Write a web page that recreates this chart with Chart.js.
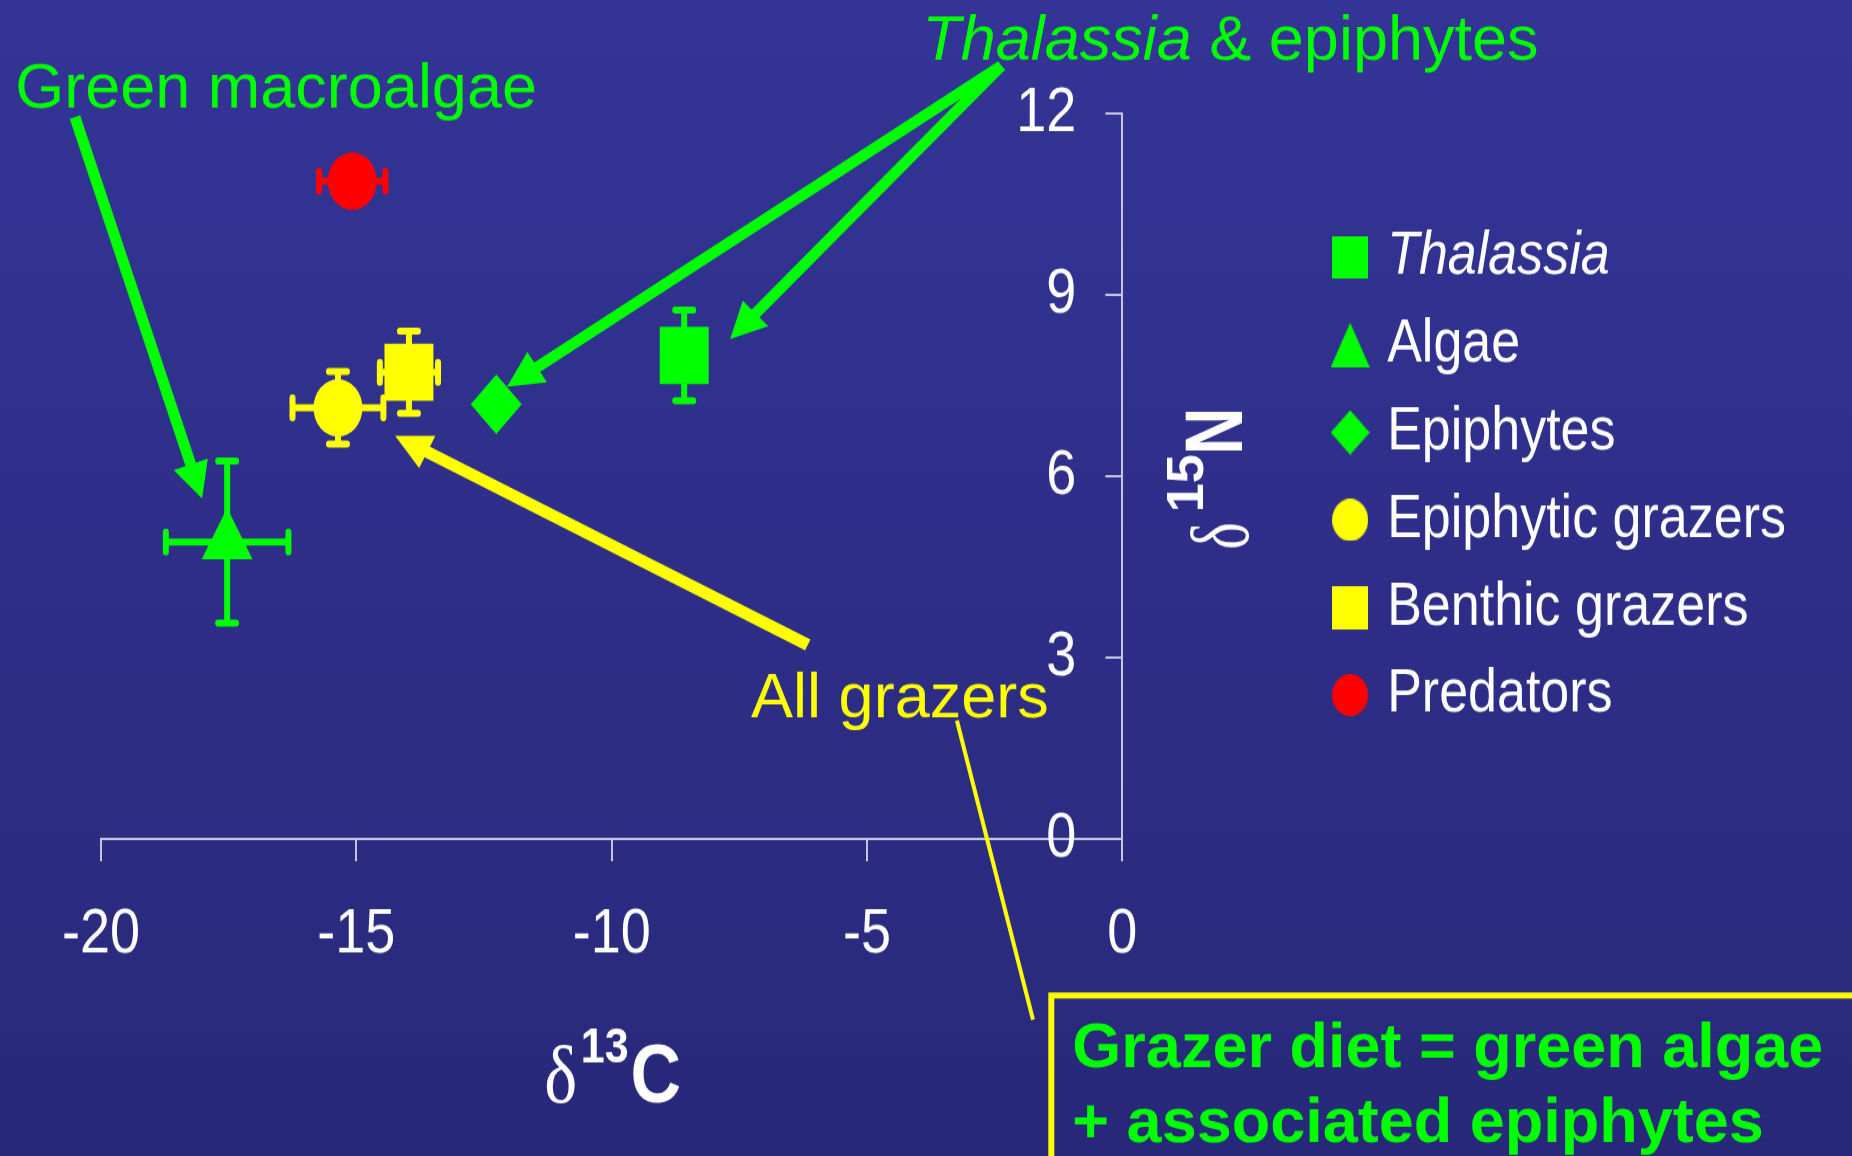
<!DOCTYPE html>
<html>
<head>
<meta charset="utf-8">
<title>δ13C vs δ15N</title>
<script src="https://cdn.jsdelivr.net/npm/chart.js@4.4.1/dist/chart.umd.min.js"></script>
<style>
  html, body { margin: 0; padding: 0; overflow: hidden; }
  body { width: 1852px; height: 1156px; background: linear-gradient(#343497, #28287a); }
  /* la figura original viene estirada en vertical: se dibuja a 988 px y se estira a 1156 */
  #wrap { width: 1852px; height: 988px; transform: scale(1, 1.17004); transform-origin: 0 0; }
  canvas { display: block; }
</style>
</head>
<body>
<div id="wrap"><canvas id="isotopos" width="1852" height="988"></canvas></div>
<script>
// isotopos.js
// δ13C vs δ15N por grupo trófico, con barras de error y anotaciones

const STRETCH = 1156 / 988;
const FAM = "'Liberation Sans', Arial, Helvetica, sans-serif";

// datos
const grupos = ['Thalassia', 'Algae', 'Epiphytes', 'Epiphytic grazers', 'Benthic grazers', 'Predators'];
const d13C = [-8.58, -17.53, -12.26, -15.36, -13.97, -15.08];
const d15N = [8.0, 4.91, 7.19, 7.13, 7.72, 10.88];
const err13C = [0.3, 1.2, 0.15, 0.89, 0.57, 0.65];
const err15N = [0.75, 1.34, 0.15, 0.6, 0.68, 0.3];
const xTicks = [-20, -15, -10, -5, 0];
const yTicks = [0, 3, 6, 9, 12];

// estilo de cada grupo
const colores = ['#00ff00', '#00ff00', '#00ff00', '#ffff00', '#ffff00', '#ff0000'];
const estilos = ['rect', 'triangle', 'rectRot', 'circle', 'rect', 'circle'];
const radios = [34.6, 29.4, 25.5, 24.5, 34.6, 24.5];
const tamLeyenda = [[36, 36], [39, 38], [39, 38], [36, 36], [36, 37], [36, 36]];

// anotaciones en unidades de los ejes
const flechas = [
  { de: [-20.51, 11.94], a: [-18.02, 5.63], color: '#00ff00', grosor: 11 },
  { de: [-2.37, 12.79], a: [-12.05, 7.48], color: '#00ff00', grosor: 11 },
  { de: [-2.37, 12.79], a: [-7.68, 8.27], color: '#00ff00', grosor: 11 },
  { de: [-6.16, 3.21], a: [-14.24, 6.67], color: '#ffff00', grosor: 12 }
];
const lineaFina = [[-3.24, 1.96], [-1.75, -2.99]];
const recuadro = [-1.45, -2.54];
const textos = [
  { t: 'Green macroalgae', pos: [-21.68, 12.09], color: '#00ff00', font: '63px ' + FAM },
  { t: 'All grazers', pos: [-7.27, 2.02], color: '#ffff00', font: '63px ' + FAM },
  { t: 'Grazer diet = green algae', pos: [-0.98, -3.78], color: '#00ff00', font: 'bold 63px ' + FAM },
  { t: '+ associated epiphytes', pos: [-0.98, -5.02], color: '#00ff00', font: 'bold 63px ' + FAM }
];
const textoThalassia = [-3.92, 12.89];
const ejeColor = '#c4c4e0';

function marcador(estilo, w, h, color) {
  const c = document.createElement('canvas');
  c.width = w; c.height = h;
  const g = c.getContext('2d');
  g.fillStyle = color;
  g.beginPath();
  if (estilo === 'circle') g.ellipse(w / 2, h / 2, w / 2, h / 2, 0, 0, 2 * Math.PI);
  else if (estilo === 'triangle') { g.moveTo(w / 2, 0); g.lineTo(w, h); g.lineTo(0, h); }
  else if (estilo === 'rectRot') { g.moveTo(w / 2, 0); g.lineTo(w, h / 2); g.lineTo(w / 2, h); g.lineTo(0, h / 2); }
  else g.rect(0, 0, w, h);
  g.closePath();
  g.fill();
  return c;
}
const marcadoresLeyenda = estilos.map((e, i) => marcador(e, tamLeyenda[i][0], tamLeyenda[i][1], colores[i]));

function flecha(ctx, x1, y1, x2, y2, color, grosor) {
  const ang = Math.atan2(y2 - y1, x2 - x1);
  const largo = 36, ancho = 18;
  const cs = Math.cos(ang), sn = Math.sin(ang);
  const bx = x2 - largo * cs, by = y2 - largo * sn;
  ctx.strokeStyle = color;
  ctx.fillStyle = color;
  ctx.lineWidth = grosor;
  ctx.lineCap = 'butt';
  ctx.beginPath();
  ctx.moveTo(x1, y1);
  ctx.lineTo(bx + 2 * cs, by + 2 * sn);
  ctx.stroke();
  ctx.beginPath();
  ctx.moveTo(x2, y2);
  ctx.lineTo(bx + ancho * sn, by - ancho * cs);
  ctx.lineTo(bx - ancho * sn, by + ancho * cs);
  ctx.closePath();
  ctx.fill();
}

function glifo(ctx, t, font, cx, base, sx) {
  ctx.save();
  ctx.translate(cx, base);
  ctx.scale(sx || 1, 1);
  ctx.font = font;
  ctx.textAlign = 'center';
  ctx.textBaseline = 'alphabetic';
  ctx.fillText(t, 0, 0);
  ctx.restore();
}

// barras de error (debajo de los puntos)
const barrasError = {
  id: 'barrasError',
  beforeDatasetsDraw(chart) {
    const { ctx, scales: { x, y } } = chart;
    ctx.save();
    ctx.lineWidth = 6;
    ctx.lineCap = 'round';
    grupos.forEach((g, i) => {
      const px = x.getPixelForValue(d13C[i]);
      const py = y.getPixelForValue(d15N[i]);
      const x0 = x.getPixelForValue(d13C[i] - err13C[i]);
      const x1 = x.getPixelForValue(d13C[i] + err13C[i]);
      const y0 = y.getPixelForValue(d15N[i] - err15N[i]);
      const y1 = y.getPixelForValue(d15N[i] + err15N[i]);
      ctx.strokeStyle = colores[i];
      ctx.beginPath();
      ctx.moveTo(x0, py); ctx.lineTo(x1, py);
      ctx.moveTo(x0, py - 8.5); ctx.lineTo(x0, py + 8.5);
      ctx.moveTo(x1, py - 8.5); ctx.lineTo(x1, py + 8.5);
      ctx.moveTo(px, y0); ctx.lineTo(px, y1);
      ctx.moveTo(px - 9, y0); ctx.lineTo(px + 9, y0);
      ctx.moveTo(px - 9, y1); ctx.lineTo(px + 9, y1);
      ctx.stroke();
    });
    ctx.restore();
  }
};

// títulos de ejes, flechas, textos y recuadro
const anotaciones = {
  id: 'anotaciones',
  afterDraw(chart) {
    const { ctx, chartArea, scales: { x, y } } = chart;
    ctx.save();
    ctx.fillStyle = '#ffffff';

    // título eje x: δ13C (estirado como el resto del gráfico)
    const cx = (chartArea.left + chartArea.right) / 2;
    const bx = chartArea.bottom + 225;
    glifo(ctx, 'δ', "70px 'Liberation Serif', serif", cx - 51, bx);
    glifo(ctx, '13', 'bold 43px ' + FAM, cx - 7, bx - 34);
    glifo(ctx, 'C', 'bold 70px ' + FAM, cx + 44, bx);

    // leyenda: Thalassia en cursiva
    const hb = chart.legend.legendHitBoxes[0];
    if (hb) {
      ctx.font = 'italic 52px ' + FAM;
      ctx.textAlign = 'left';
      ctx.textBaseline = 'middle';
      ctx.fillText('Thalassia', hb.left + 22 + 26, hb.top + 26);
    }

    // a partir de aquí, coordenadas sin estirar
    ctx.scale(1, 1 / STRETCH);
    const fx = v => x.getPixelForValue(v);
    const fy = v => y.getPixelForValue(v) * STRETCH;

    // título eje y: δ15N, girado
    const midY = (chartArea.top + chartArea.bottom) / 2 * STRETCH;
    ctx.save();
    ctx.translate(chartArea.right + 121, midY + 79);
    ctx.rotate(-Math.PI / 2);
    ctx.fillStyle = '#ffffff';
    glifo(ctx, 'δ', "82px 'Liberation Serif', serif", 19.5, 5, 0.7);
    glifo(ctx, '15', 'bold 52px ' + FAM, 72, -40);
    glifo(ctx, 'N', 'bold 82px ' + FAM, 124, -1, 0.8);
    ctx.restore();

    flechas.forEach(f => flecha(ctx, fx(f.de[0]), fy(f.de[1]), fx(f.a[0]), fy(f.a[1]), f.color, f.grosor));

    ctx.strokeStyle = '#ffff00';
    ctx.lineWidth = 4;
    ctx.beginPath();
    ctx.moveTo(fx(lineaFina[0][0]), fy(lineaFina[0][1]));
    ctx.lineTo(fx(lineaFina[1][0]), fy(lineaFina[1][1]));
    ctx.stroke();

    ctx.lineWidth = 6;
    ctx.strokeRect(fx(recuadro[0]) + 3, fy(recuadro[1]) + 3, 2000, 1000);

    ctx.textAlign = 'left';
    ctx.textBaseline = 'alphabetic';
    textos.forEach(t => {
      ctx.font = t.font;
      ctx.fillStyle = t.color;
      ctx.fillText(t.t, fx(t.pos[0]), fy(t.pos[1]));
    });

    // Thalassia & epiphytes (cursiva + normal)
    const tx = fx(textoThalassia[0]), ty = fy(textoThalassia[1]);
    ctx.fillStyle = '#00ff00';
    ctx.font = 'italic 63px ' + FAM;
    ctx.fillText('Thalassia', tx, ty);
    const w = ctx.measureText('Thalassia').width;
    ctx.font = '63px ' + FAM;
    ctx.fillText(' & epiphytes', tx + w, ty);

    ctx.restore();
  }
};

const datasets = grupos.map((g, i) => ({
  label: g,
  data: [{ x: d13C[i], y: d15N[i] }],
  pointStyle: estilos[i],
  pointRadius: radios[i],
  pointHoverRadius: radios[i],
  backgroundColor: colores[i],
  borderColor: colores[i],
  borderWidth: 0,
  pointBorderWidth: 0
}));

new Chart(document.getElementById('isotopos').getContext('2d'), {
  type: 'scatter',
  data: { datasets: datasets },
  options: {
    responsive: false,
    devicePixelRatio: 1,
    animation: false,
    events: [],
    layout: { padding: { left: 101, top: 97, right: 56, bottom: 121 } },
    scales: {
      x: {
        type: 'linear',
        position: 'bottom',
        min: -20,
        max: 0,
        afterBuildTicks: s => { s.ticks = xTicks.map(v => ({ value: v })); },
        afterFit: s => { s.height = 150; },
        grid: { drawOnChartArea: false, drawTicks: true, tickLength: 19, color: ejeColor, lineWidth: 2 },
        border: { display: true, color: ejeColor, width: 2 },
        ticks: { color: '#ffffff', font: { family: FAM, size: 54 }, padding: 31, maxRotation: 0, autoSkip: false }
      },
      y: {
        type: 'linear',
        position: 'right',
        min: 0,
        max: 12,
        afterBuildTicks: s => { s.ticks = yTicks.map(v => ({ value: v })); },
        afterFit: s => { s.width = 194; },
        grid: { drawOnChartArea: false, drawTicks: true, tickLength: -17, color: ejeColor, lineWidth: 2 },
        border: { display: true, color: ejeColor, width: 2 },
        ticks: { mirror: true, padding: -46, color: '#ffffff', font: { family: FAM, size: 54 } }
      }
    },
    plugins: {
      tooltip: { enabled: false },
      legend: {
        position: 'right',
        align: 'center',
        fullSize: false,
        maxWidth: 600,
        labels: {
          usePointStyle: true,
          boxWidth: 22,
          boxHeight: 36,
          padding: 22.8,
          color: '#ffffff',
          font: { family: FAM, size: 52 },
          generateLabels: chart => chart.data.datasets.map((ds, i) => ({
            text: i === 0 ? '' : ds.label,
            fillStyle: colores[i],
            strokeStyle: colores[i],
            lineWidth: 0,
            pointStyle: marcadoresLeyenda[i],
            hidden: false,
            datasetIndex: i,
            fontColor: '#ffffff'
          }))
        }
      }
    }
  },
  plugins: [barrasError, anotaciones]
});
</script>
</body>
</html>
